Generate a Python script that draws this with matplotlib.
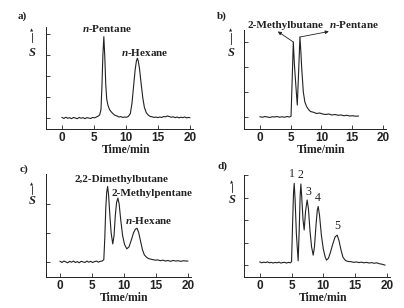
import matplotlib
matplotlib.use("Agg")
import matplotlib.pyplot as plt

# ── data (time in min, signal in arb. units) ──
a_time = [0.0, 0.3, 0.6, 0.9, 1.2, 1.5, 1.8, 2.1, 2.4, 2.7, 3.0, 3.3, 3.6, 3.9, 4.2, 4.5,
          4.8, 5.1, 5.4, 5.7, 5.9, 6.1, 6.25, 6.4, 6.55, 6.7, 6.85, 7.0, 7.2, 7.45, 7.7,
          8.0, 8.3, 8.6, 8.9, 9.2, 9.5, 9.8, 10.1, 10.4, 10.7, 10.95, 11.2, 11.45, 11.65,
          11.8, 11.95, 12.15, 12.4, 12.65, 12.9, 13.2, 13.5, 13.8, 14.1, 14.4, 14.7, 15.0,
          15.3, 15.6, 15.9, 16.2, 16.5, 16.8, 17.1, 17.4, 17.7, 18.0, 18.3, 18.6, 18.9,
          19.2, 19.5, 19.8, 20.0]
a_signal = [0.03, -0.02, 0.04, -0.01, 0.02, -0.03, 0.03, 0.0, -0.03, 0.03, -0.01, 0.02, -0.03,
            0.02, 0.0, -0.02, 0.03, 0.01, 0.05, 0.1, 0.15, 0.4, 1.5, 3.0, 3.87, 2.9, 1.6, 0.9,
            0.6, 0.4, 0.3, 0.2, 0.13, 0.1, 0.05, 0.07, 0.03, 0.05, 0.04, 0.08, 0.22, 0.7, 1.5,
            2.3, 2.72, 2.84, 2.7, 2.3, 1.6, 0.95, 0.5, 0.25, 0.14, 0.08, 0.06, 0.03, 0.05, 0.02,
            0.05, 0.03, 0.07, 0.06, 0.1, 0.07, 0.04, 0.06, 0.02, 0.05, 0.01, 0.04, 0.02, 0.05,
            0.01, 0.03, 0.02]

b_time = [0.0, 0.4, 0.8, 1.2, 1.6, 2.0, 2.4, 2.8, 3.2, 3.6, 4.0, 4.4, 4.8, 5.05, 5.2, 5.3,
          5.42, 5.6, 5.85, 6.07, 6.3, 6.5, 6.65, 6.8, 7.05, 7.3, 7.6, 7.9, 8.2, 8.7, 9.2, 9.7,
          10.2, 10.7, 11.2, 11.7, 12.2, 12.7, 13.2, 13.7, 14.1, 14.6, 15.1, 15.6, 16.0]
b_signal = [0.01, -0.01, 0.02, 0.0, -0.02, 0.01, 0.0, 0.02, -0.01, 0.01, -0.01, 0.02, 0.0,
            0.03, 1.2, 2.0, 3.0, 2.1, 1.2, 0.48, 1.9, 3.2, 2.6, 1.9, 1.0, 0.6, 0.41, 0.3, 0.22,
            0.19, 0.14, 0.16, 0.12, 0.1, 0.12, 0.08, 0.1, 0.07, 0.08, 0.05, 0.07, 0.04, 0.05,
            0.03, 0.04]

c_time = [0.0, 0.3, 0.6, 0.9, 1.2, 1.5, 1.8, 2.1, 2.4, 2.7, 3.0, 3.3, 3.6, 3.9, 4.2, 4.5,
          4.8, 5.1, 5.4, 5.7, 6.0, 6.3, 6.6, 6.85, 7.0, 7.15, 7.3, 7.45, 7.6, 7.8, 8.0, 8.25,
          8.45, 8.65, 8.85, 9.05, 9.25, 9.5, 9.8, 10.1, 10.45, 10.8, 11.15, 11.5, 11.8, 12.05,
          12.3, 12.6, 12.9, 13.2, 13.5, 13.8, 14.1, 14.5, 14.9, 15.3, 15.7, 16.1, 16.5, 16.9,
          17.3, 17.7, 18.1, 18.5, 18.9, 19.3, 19.7, 20.0]
c_signal = [0.02, -0.02, 0.03, 0.0, -0.03, 0.02, -0.01, 0.03, -0.02, 0.01, -0.03, 0.02, 0.0,
            -0.02, 0.03, -0.01, 0.02, -0.02, 0.01, 0.03, -0.01, 0.02, 0.03, 0.08, 0.8, 1.8, 2.4,
            2.6, 2.3, 1.6, 1.0, 0.62, 0.9, 1.6, 2.05, 2.2, 2.0, 1.45, 0.9, 0.6, 0.45, 0.52, 0.75,
            1.0, 1.13, 1.16, 1.02, 0.72, 0.42, 0.24, 0.17, 0.12, 0.1, 0.08, 0.06, 0.07, 0.04,
            0.06, 0.03, 0.05, 0.02, 0.05, 0.03, 0.04, 0.02, 0.04, 0.03, 0.03]

d_time = [0.0, 0.3, 0.6, 0.9, 1.2, 1.5, 1.8, 2.1, 2.4, 2.7, 3.0, 3.3, 3.6, 3.9, 4.2, 4.5,
          4.8, 4.99, 5.15, 5.3, 5.41, 5.55, 5.75, 6.03, 6.2, 6.35, 6.46, 6.6, 6.8, 6.98, 7.2,
          7.45, 7.65, 7.9, 8.15, 8.4, 8.6, 8.85, 9.05, 9.19, 9.4, 9.7, 10.0, 10.3, 10.5, 10.8,
          11.1, 11.5, 11.85, 12.18, 12.45, 12.8, 13.1, 13.5, 13.9, 14.4, 14.8, 15.2, 15.6,
          16.0, 16.4, 16.8, 17.2, 17.6, 18.0, 18.4, 18.8, 19.2, 19.7]
d_signal = [0.14, 0.1, 0.13, 0.11, 0.14, 0.1, 0.12, 0.09, 0.12, 0.1, 0.13, 0.09, 0.11, 0.12,
            0.09, 0.12, 0.1, 0.15, 1.8, 3.2, 3.63, 2.9, 1.4, 0.19, 1.6, 3.1, 3.6, 3.0, 2.0, 1.56,
            2.4, 2.89, 2.5, 1.5, 0.8, 0.44, 0.8, 1.8, 2.45, 2.6, 2.2, 1.3, 0.7, 0.35, 0.22, 0.3,
            0.55, 0.95, 1.25, 1.33, 1.1, 0.65, 0.34, 0.2, 0.16, 0.15, 0.12, 0.14, 0.11, 0.13,
            0.1, 0.12, 0.09, 0.11, 0.08, 0.1, 0.06, 0.04, 0.0]

x_ticks = [0, 5, 10, 15, 20]

plt.rcParams['font.family'] = ['Liberation Sans', 'DejaVu Sans']
plt.rcParams['font.weight'] = 'bold'
plt.rcParams['mathtext.fontset'] = 'custom'
plt.rcParams['mathtext.it'] = 'Liberation Serif:italic:bold'
plt.rcParams['mathtext.rm'] = 'Liberation Serif:bold'

W, H = 404, 308
fig = plt.figure(figsize=(W / 100, H / 100), dpi=100)
INK = '#222222'
SERIF = 'Liberation Serif'


def place(l, t, r, b):
    return [l / W, 1 - b / H, (r - l) / W, (b - t) / H]


def ftext(x, y, s, size=8, weight='bold'):
    fig.text(x / W, 1 - y / H, s, ha='center', va='center', fontsize=size,
             fontfamily=SERIF, fontweight=weight, color=INK)


def setup(ax, xlim, ylim, yticks):
    ax.set_xlim(*xlim)
    ax.set_ylim(*ylim)
    for side in ('top', 'right'):
        ax.spines[side].set_visible(False)
    for side in ('left', 'bottom'):
        ax.spines[side].set_linewidth(0.7)
        ax.spines[side].set_color(INK)
    ax.set_xticks(x_ticks)
    ax.set_yticks(yticks)
    ax.set_yticklabels([])
    ax.tick_params(direction='in', length=3, width=0.6, labelsize=8.5, pad=2.5, colors=INK)
    ax.set_xlabel('Time/min', fontfamily=SERIF, fontweight='bold', fontsize=8.5,
                  labelpad=0, color=INK)
    # centre the axis title under the 0-20 min range
    ax.xaxis.label.set_x((10 - xlim[0]) / (xlim[1] - xlim[0]))


def s_label(x, y_arrow_top, y_arrow_bot, y_s):
    fig.add_artist(plt.Line2D([x / W, x / W], [1 - y_arrow_bot / H, 1 - (y_arrow_top + 2) / H],
                              lw=0.6, color=INK))
    fig.text(x / W, 1 - y_arrow_top / H, '\u25b2', ha='center', va='center', fontsize=3,
             color=INK, fontfamily='DejaVu Sans')
    ftext(x, y_s, r'$\mathit{S}$', size=9)


# ── a) ──
ax = fig.add_axes(place(46, 27, 193, 129))
ax.plot(a_time, a_signal, color=INK, lw=0.8)
setup(ax, (-2.5, 20.5), (-0.52, 4.33), [0, 1, 2, 3, 4])
ftext(22, 16, 'a)')
ftext(107, 29, r'$\mathit{n}$-Pentane')
ftext(145, 52, r'$\mathit{n}$-Hexane')
s_label(32, 31, 42, 53)

# ── b) ──
ax = fig.add_axes(place(244, 30, 386, 129))
ax.plot(b_time, b_signal, color=INK, lw=0.8)
setup(ax, (-2.6, 20.5), (-0.48, 3.48), [0, 1, 2, 3])
ax.annotate('', xy=(2.9, 3.42), xytext=(5.42, 3.0), annotation_clip=False,
            arrowprops=dict(arrowstyle='-|>', lw=0.6, color=INK, mutation_scale=5,
                            shrinkA=0, shrinkB=0))
ax.annotate('', xy=(11.2, 3.42), xytext=(6.5, 3.2), annotation_clip=False,
            arrowprops=dict(arrowstyle='-|>', lw=0.6, color=INK, mutation_scale=5,
                            shrinkA=0, shrinkB=0))
ftext(222, 16, 'b)')
ftext(285, 25, '2-Methylbutane')
ftext(354, 25, r'$\mathit{n}$-Pentane')
s_label(231, 31, 44, 53)

# ── c) ──
ax = fig.add_axes(place(46, 174, 191, 277))
ax.plot(c_time, c_signal, color=INK, lw=0.8)
setup(ax, (-2.2, 20.5), (-0.52, 3.03), [0, 1, 2])
ftext(24, 169, 'c)')
ftext(121, 179, '2,2-Dimethylbutane')
ftext(152, 193, '2-Methylpentane')
ftext(149, 221, r'$\mathit{n}$-Hexane')
s_label(32, 184, 194, 201)

# ── d) ──
ax = fig.add_axes(place(244, 175, 390, 277))
ax.plot(d_time, d_signal, color=INK, lw=0.8)
setup(ax, (-2.5, 20.5), (-0.53, 4.0), [0, 1, 2, 3, 4])
ftext(222, 166, 'd)')
for num, (px, py) in zip(['1', '2', '3', '4', '5'],
                         [(292, 174), (300, 175), (308, 192), (318, 198), (337, 226)]):
    ftext(px, py, num, size=8.5, weight='normal')
s_label(232, 182, 192, 200)

fig.savefig('out.png', dpi=100)
